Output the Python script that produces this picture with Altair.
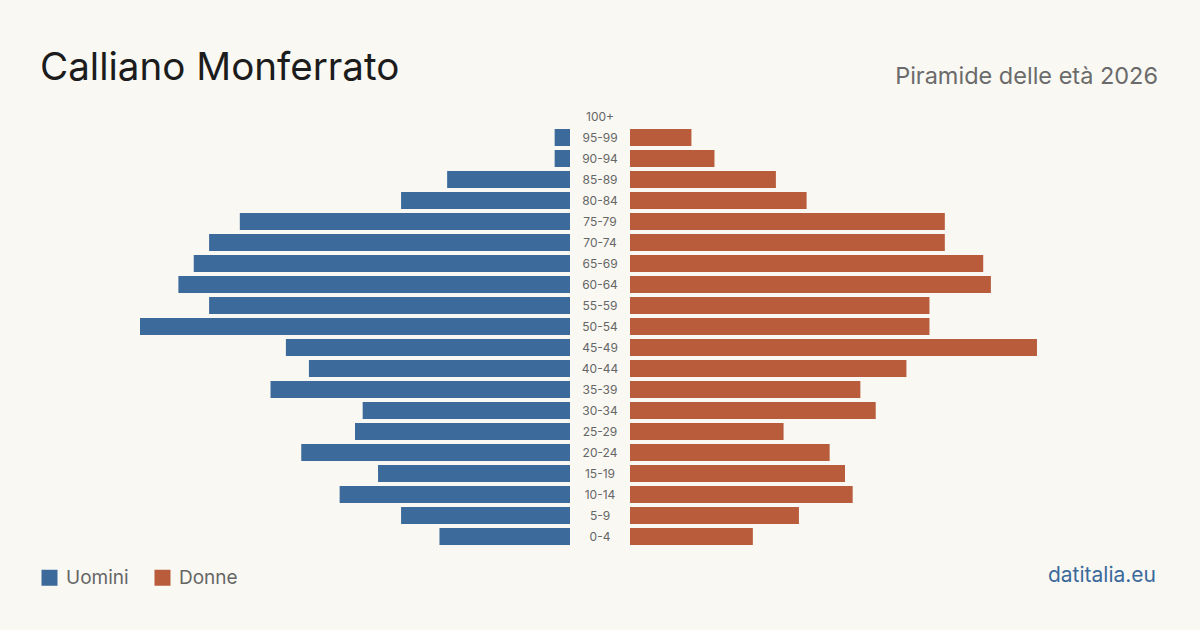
import altair as alt
import pandas as pd

ages = ["100+", "95-99", "90-94", "85-89", "80-84", "75-79", "70-74", "65-69", "60-64",
        "55-59", "50-54", "45-49", "40-44", "35-39", "30-34", "25-29", "20-24",
        "15-19", "10-14", "5-9", "0-4"]
uomini = [0, 2, 2, 16, 22, 43, 47, 49, 51, 47, 56, 37, 34, 39, 27, 28, 35, 25, 30, 22, 17]
donne = [0, 8, 11, 19, 23, 41, 41, 46, 47, 39, 39, 53, 36, 30, 32, 20, 26, 28, 29, 22, 16]

BLUE = "#3b6a9b"
ORANGE = "#b85c3c"
BG = "#f9f8f3"
FONT = "Inter"

df = pd.DataFrame({
    "age": ages * 2,
    "sesso": ["Uomini"] * len(ages) + ["Donne"] * len(ages),
    "value": uomini + donne,
})

W, H = 430, 441
MAXV = 56
ysc = alt.Scale(domain=ages, paddingInner=0.19, paddingOuter=0.095)
color = alt.Color("sesso:N", scale=alt.Scale(domain=["Uomini", "Donne"], range=[BLUE, ORANGE]),
                  legend=alt.Legend(title=None, orient="none", legendX=-100, legendY=462,
                                    direction="horizontal", symbolType="square", symbolSize=256,
                                    symbolStrokeWidth=0, labelFontSize=19, labelColor="#666666",
                                    labelFont=FONT, columnPadding=24, symbolOffset=0,
                                    labelOffset=7, padding=0))

base = alt.Chart(df)
one = pd.DataFrame({"t": [""]})

# full-canvas background frame (defines the 1200x630 extent)
frame = alt.Chart(one).mark_rect(color=BG).encode(
    x=alt.value(-140), x2=alt.value(1060), y=alt.value(-106), y2=alt.value(524)
)

left_bars = base.transform_filter(alt.datum.sesso == "Uomini").mark_bar().encode(
    x=alt.X("value:Q", scale=alt.Scale(domain=[0, MAXV], reverse=True, nice=False), axis=None),
    y=alt.Y("age:N", scale=ysc, axis=None, sort=ages),
    color=color,
)
title_txt = alt.Chart(pd.DataFrame({"t": ["Calliano Monferrato"]})).mark_text(
    align="left", baseline="alphabetic", fontSize=38.6, font=FONT, color="#1c1c1c"
).encode(text="t:N", x=alt.value(-100), y=alt.value(-26))
left = alt.layer(frame, left_bars, title_txt).properties(width=W, height=H)

mid = base.transform_filter(alt.datum.sesso == "Uomini").mark_text(
    fontSize=12, font=FONT, color="#666666", align="center", baseline="middle"
).encode(
    y=alt.Y("age:N", scale=ysc, axis=None, sort=ages),
    text="age:N",
    x=alt.value(30),
).properties(width=60, height=H)

right_bars = base.transform_filter(alt.datum.sesso == "Donne").mark_bar().encode(
    x=alt.X("value:Q", scale=alt.Scale(domain=[0, MAXV], nice=False), axis=None),
    y=alt.Y("age:N", scale=ysc, axis=None, sort=ages),
    color=color,
)
sub_txt = alt.Chart(pd.DataFrame({"t": ["Piramide delle età 2026"]})).mark_text(
    align="right", baseline="alphabetic", fontSize=23.5, font=FONT, color="#6b6b6b"
).encode(text="t:N", x=alt.value(528), y=alt.value(-22))
src_txt = alt.Chart(pd.DataFrame({"t": ["datitalia.eu"]})).mark_text(
    align="right", baseline="middle", fontSize=21, font=FONT, color="#3b6a9b"
).encode(text="t:N", x=alt.value(526), y=alt.value(470))
right = alt.layer(right_bars, sub_txt, src_txt).properties(width=W, height=H)

chart = alt.hconcat(left, mid, right, spacing=0, bounds="flush").properties(
    background=BG,
    padding=0,
).configure_view(stroke=None).configure_concat(spacing=0)

chart.save("out.html", embed_options={"renderer": "svg", "actions": False})
